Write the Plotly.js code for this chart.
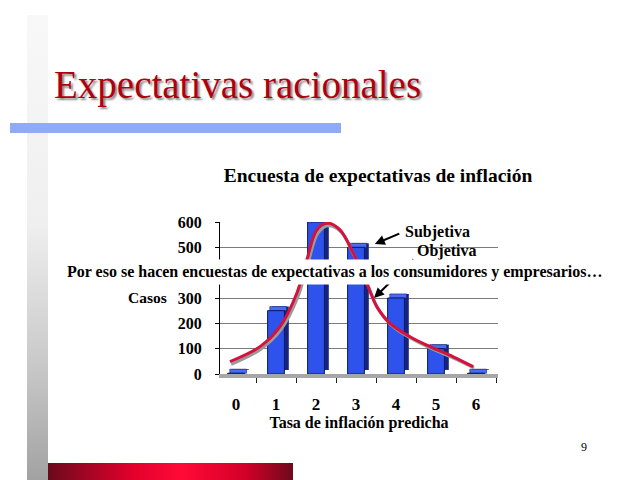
<!DOCTYPE html>
<html>
<head>
<meta charset="utf-8">
<script src="https://cdn.plot.ly/plotly-3.0.1.min.js"></script>
<style>
  html, body { margin: 0; padding: 0; background: #fff; }
  #chart { width: 640px; height: 480px; }
</style>
</head>
<body>
<div id="chart"></div>
<script>
// predicted inflation rate (x) and number of cases per rate
const rates = [0, 1, 2, 3, 4, 5, 6];
const cases = [3, 250, 600, 500, 300, 100, 3];

// "Objetiva" curve (red)
const objX = [-0.15, 0.6, 1.1, 1.52, 1.77, 2.02, 2.27, 2.6, 2.93, 3.27, 3.52, 3.85, 4.35, 4.85, 5.43, 5.93];
const objY = [49, 108, 187, 319, 450, 569, 596, 569, 477, 358, 266, 200, 147, 108, 68, 29];

// grey shadow curve ("Subjetiva" side)
const subjX = [-0.12, 0.62, 1.13, 1.55, 1.8, 2.05, 2.3, 2.63, 2.95, 3.3, 3.55, 3.88, 4.38, 4.88, 5.45, 5.95];
const subjY = [38, 98, 176, 305, 437, 556, 585, 560, 468, 350, 258, 193, 140, 101, 62, 24];

const tickLabels = ["0", "1", "2", "3", "4", "5", "6"];
// 400 sits under the white caption band, so it is not shown
const yTicks = [0, 100, 200, 300, 500, 600];

// plot area in page pixels
const L = 220, R = 498, T = 222, B = 374;
const px = (x) => (x - L) / (R - L);
const py = (y) => (B - y) / (B - T);

const serif = "Liberation Serif";
const barW = 0.42;

// thin top face of every bar (fixed thickness on top of the value)
const topThick = cases.map(() => 16);

const svgUri = (svg) => "data:image/svg+xml;utf8," + encodeURIComponent(svg);

const greyBar = svgUri(
  '<svg xmlns="http://www.w3.org/2000/svg" width="21" height="465">' +
  '<defs><linearGradient id="g" x1="0" y1="0" x2="0" y2="1">' +
  '<stop offset="0" stop-color="#f8f8f8"/><stop offset="0.45" stop-color="#efefef"/>' +
  '<stop offset="0.75" stop-color="#c9c9c9"/><stop offset="1" stop-color="#a2a2a2"/>' +
  '</linearGradient></defs><rect width="21" height="465" fill="url(#g)"/></svg>'
);

const redBar = svgUri(
  '<svg xmlns="http://www.w3.org/2000/svg" width="245" height="17">' +
  '<defs><linearGradient id="r" x1="0" y1="0" x2="1" y2="0">' +
  '<stop offset="0" stop-color="#6a0a1c"/><stop offset="0.35" stop-color="#e4002c"/>' +
  '<stop offset="0.55" stop-color="#ff0a36"/><stop offset="0.8" stop-color="#d40028"/>' +
  '<stop offset="1" stop-color="#6e0a1c"/></linearGradient></defs>' +
  '<rect width="245" height="17" fill="url(#r)"/></svg>'
);

const data = [
  {
    // side face
    type: "bar", x: rates, y: cases, base: 16,
    width: barW, offset: -barW / 2 + 0.11,
    marker: { color: "#17247e" }, cliponaxis: false, hoverinfo: "skip",
  },
  {
    // top face
    type: "bar", x: rates, y: topThick, base: cases,
    width: barW, offset: -barW / 2 + 0.055,
    marker: { color: "#4a6cf2", line: { color: "#142070", width: 0.6 } },
    cliponaxis: false, hoverinfo: "skip",
  },
  {
    // front face
    type: "bar", x: rates, y: cases, name: "Casos",
    width: barW, offset: -barW / 2,
    marker: { color: "#2e52ec", line: { color: "#0c1a66", width: 1 } },
    cliponaxis: false,
  },
  {
    type: "scatter", mode: "lines", x: subjX, y: subjY, name: "Subjetiva",
    line: { color: "#9a9a9a", width: 3, shape: "spline" }, cliponaxis: false,
  },
  {
    type: "scatter", mode: "lines", x: objX, y: objY, name: "Objetiva",
    line: { color: "#d4123e", width: 3, shape: "spline" }, cliponaxis: false,
  },
];

const layout = {
  width: 640,
  height: 480,
  margin: { l: L, r: 640 - R, t: T, b: 480 - B, pad: 0 },
  paper_bgcolor: "#ffffff",
  plot_bgcolor: "rgba(0,0,0,0)",
  showlegend: false,
  barmode: "overlay",
  font: { family: serif, color: "#000" },
  title: {
    text: "Encuesta de expectativas de inflación",
    font: { family: serif, size: 19.5, weight: "bold" },
    xref: "paper", x: px(378), xanchor: "center",
    yref: "container", y: 1 - 175 / 480, yanchor: "middle",
  },
  xaxis: {
    range: [-0.4, 6.55],
    tickvals: rates,
    ticktext: tickLabels,
    ticks: "",
    ticklabelstandoff: 12,
    tickfont: { family: serif, size: 17, weight: "bold" },
    showgrid: false,
    zeroline: false,
    showline: true,
    linecolor: "#a6a6a6",
    linewidth: 4,
    minor: { tick0: 0.5, dtick: 1, ticks: "outside", ticklen: 5, tickcolor: "#222", showgrid: false },
    title: {
      text: "Tasa de inflación predicha",
      font: { family: serif, size: 16, weight: "bold" },
      standoff: 2,
    },
    fixedrange: true,
  },
  yaxis: {
    range: [0, 600],
    tickvals: yTicks,
    ticks: "outside",
    ticklen: 4,
    tickcolor: "#000",
    ticklabelstandoff: 10,
    tickfont: { family: serif, size: 16, weight: "bold" },
    showgrid: true,
    gridcolor: "#7a7a7a",
    gridwidth: 1,
    zeroline: false,
    showline: true,
    linecolor: "#000",
    linewidth: 1,
    fixedrange: true,
  },
  images: [
    {
      source: greyBar, xref: "paper", yref: "paper",
      x: px(27), y: py(15), sizex: 21 / (R - L), sizey: 465 / (B - T),
      sizing: "stretch", layer: "below",
    },
    {
      source: redBar, xref: "paper", yref: "paper",
      x: px(48), y: py(463), sizex: 245 / (R - L), sizey: 17 / (B - T),
      sizing: "stretch", layer: "below",
    },
  ],
  shapes: [
    {
      type: "rect", xref: "paper", yref: "paper", layer: "below",
      x0: px(10), x1: px(341), y0: py(123), y1: py(133),
      fillcolor: "#8fabf8", line: { width: 0 },
    },
  ],
  annotations: [
    {
      text: "Expectativas racionales",
      xref: "paper", yref: "paper", x: px(52), y: py(85),
      xanchor: "left", yanchor: "middle", showarrow: false,
      font: { family: serif, size: 39, color: "#b0000f", shadow: "2px 2px 2px #8a8a8a" },
    },
    {
      text: "Casos",
      xref: "paper", yref: "paper", x: px(147), y: py(297),
      xanchor: "center", yanchor: "middle", showarrow: false,
      font: { family: serif, size: 15.5, weight: "bold" },
    },
    {
      text: "Subjetiva",
      xref: "paper", yref: "paper", x: px(437), y: py(232),
      xanchor: "center", yanchor: "middle", showarrow: false,
      font: { family: serif, size: 16, weight: "bold" },
    },
    {
      text: "Objetiva",
      xref: "paper", yref: "paper", x: px(447), y: py(251),
      xanchor: "center", yanchor: "middle", showarrow: false,
      font: { family: serif, size: 16, weight: "bold" },
    },
    {
      // arrow to "Subjetiva"
      text: "", x: 3.47, y: 513, xref: "x", yref: "y",
      showarrow: true, arrowhead: 2, arrowsize: 1, arrowwidth: 2, arrowcolor: "#000",
      ax: 26, ay: -11,
    },
    {
      // arrow to "Objetiva"
      text: "", x: 3.45, y: 300, xref: "x", yref: "y",
      showarrow: true, arrowhead: 2, arrowsize: 1, arrowwidth: 2, arrowcolor: "#000",
      ax: 41, ay: -40,
    },
    {
      text: "Por eso se hacen encuestas de expectativas a los consumidores y empresarios…",
      xref: "paper", yref: "paper", x: px(335), y: py(272),
      xanchor: "center", yanchor: "middle", showarrow: false,
      bgcolor: "#ffffff", borderpad: 3,
      font: { family: serif, size: 16, weight: "bold" },
    },
    {
      text: "9",
      xref: "paper", yref: "paper", x: px(584), y: py(447),
      xanchor: "center", yanchor: "middle", showarrow: false,
      font: { family: serif, size: 12, color: "#000" },
    },
  ],
};

Plotly.newPlot("chart", data, layout, { displayModeBar: false, staticPlot: true });
</script>
</body>
</html>
